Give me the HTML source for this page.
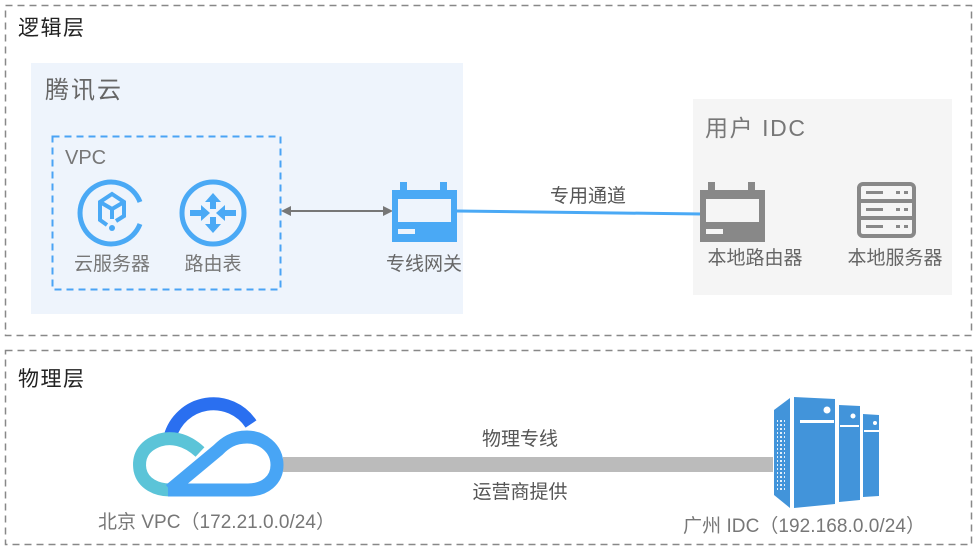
<!DOCTYPE html>
<html><head><meta charset="utf-8"><style>
html,body{margin:0;padding:0;background:#fff;}
svg{display:block;}
text{font-family:"Liberation Sans","Noto Sans CJK SC",sans-serif;}
</style></head><body>
<svg width="978" height="550" viewBox="0 0 978 550" xmlns="http://www.w3.org/2000/svg">
<defs><pattern id="dots" width="4" height="4" patternUnits="userSpaceOnUse"><rect x="0" y="0" width="2" height="2" fill="#fff"/></pattern></defs>
<!-- logic layer -->
<rect x="5.5" y="5.5" width="966" height="330" fill="none" stroke="#888" stroke-width="1.5" stroke-dasharray="7,5"/>
<text x="18" y="35" font-size="21" fill="#222" textLength="66">逻辑层</text>
<rect x="31" y="63" width="432" height="251" fill="#eef4fc"/>
<text x="45" y="98" font-size="24" fill="#666" textLength="76">腾讯云</text>
<rect x="52.5" y="136.5" width="228" height="153" fill="none" stroke="#4aa3f5" stroke-width="2" stroke-dasharray="7,5"/>
<text x="65" y="164" font-size="20" fill="#777">VPC</text>
<!-- cloud server icon -->
<g stroke="#4aa9f5" fill="none" stroke-width="5">
<path d="M140 224 A31 31 0 1 1 140 202"/>
<path d="M100 212 l0 -10 l12 -8 l12 8 l0 14 l-8 5" stroke-width="4"/>
<path d="M100 202 l12 7 l12 -7 M112 209 l0 10" stroke-width="4"/>
<path d="M100 212 l0 8 l7 5" stroke-width="4"/>
</g>
<circle cx="112" cy="228" r="3" fill="#4aa9f5"/>
<!-- router icon -->
<circle cx="213" cy="213" r="31" fill="none" stroke="#4aa9f5" stroke-width="5"/>
<g fill="#4aa9f5">
<polygon points="213,193 205,202 210,202 210,209 216,209 216,202 221,202"/>
<polygon points="213,233 205,224 210,224 210,217 216,217 216,224 221,224"/>
<polygon points="210,213 201,205 201,210 190,210 190,216 201,216 201,221"/>
<polygon points="216,213 225,205 225,210 236,210 236,216 225,216 225,221"/>
</g>
<text x="112" y="270" font-size="19" fill="#777" text-anchor="middle">云服务器</text>
<text x="213" y="270" font-size="19" fill="#777" text-anchor="middle">路由表</text>
<!-- arrow -->
<line x1="288" y1="211" x2="386" y2="211" stroke="#777" stroke-width="2"/>
<polygon points="281,211 291,206 291,216" fill="#777"/>
<polygon points="393,211 383,206 383,216" fill="#777"/>
<!-- gateway -->
<g fill="#4aa9f5">
<rect x="400" y="182" width="7" height="8"/><rect x="440" y="182" width="7" height="8"/>
<rect x="392" y="190" width="65" height="52"/>
</g>
<rect x="398" y="199" width="53" height="23" fill="#eef4fc"/>
<rect x="398" y="229" width="17" height="5" fill="#eef4fc"/>
<text x="424" y="270" font-size="19" fill="#666" text-anchor="middle">专线网关</text>
<!-- user IDC -->
<rect x="693" y="99" width="259" height="196" fill="#f5f5f5"/>
<text x="705" y="136" font-size="23" fill="#777" textLength="100">用户 IDC</text>
<line x1="457" y1="211" x2="702" y2="214" stroke="#4aa9f5" stroke-width="3"/>
<text x="588" y="202" font-size="19" fill="#555" text-anchor="middle">专用通道</text>
<g fill="#888">
<rect x="708" y="182" width="7" height="8"/><rect x="748" y="182" width="7" height="8"/>
<rect x="700" y="190" width="65" height="52"/>
</g>
<rect x="706" y="199" width="53" height="23" fill="#f5f5f5"/>
<rect x="706" y="229" width="17" height="5" fill="#f5f5f5"/>
<g fill="none" stroke="#888" stroke-width="4">
<rect x="859" y="184" width="55" height="52" rx="4"/>
<line x1="859" y1="201" x2="914" y2="201"/><line x1="859" y1="218" x2="914" y2="218"/>
</g>
<g fill="#888">
<rect x="866" y="191" width="17" height="3"/><rect x="896" y="191" width="4" height="3"/><rect x="904" y="191" width="4" height="3"/>
<rect x="866" y="208" width="17" height="3"/><rect x="896" y="208" width="4" height="3"/><rect x="904" y="208" width="4" height="3"/>
<rect x="866" y="225" width="17" height="3"/><rect x="896" y="225" width="4" height="3"/><rect x="904" y="225" width="4" height="3"/>
</g>
<text x="755" y="264" font-size="19" fill="#666" text-anchor="middle">本地路由器</text>
<text x="895" y="264" font-size="19" fill="#666" text-anchor="middle">本地服务器</text>
<!-- physical layer -->
<rect x="5.5" y="350.5" width="966" height="194" fill="none" stroke="#888" stroke-width="1.5" stroke-dasharray="7,5"/>
<text x="18" y="386" font-size="21" fill="#222" textLength="66">物理层</text>
<rect x="283" y="457" width="490" height="15" fill="#bbb"/>
<text x="520" y="445" font-size="19" fill="#555" text-anchor="middle">物理专线</text>
<text x="520" y="498" font-size="19" fill="#555" text-anchor="middle">运营商提供</text>
<!-- tencent cloud logo -->
<path d="M170 437 A45 45 0 0 1 251 424" fill="none" stroke="#2a6ff0" stroke-width="13"/>
<path d="M200 452 C185 438 170 437 160 440 C142 446 138 458 140 470 C143 484 157 490 170 490 L178 490" fill="none" stroke="#5bc4d8" stroke-width="13"/>
<path d="M168 490 L248 490 C265 490 277 480 277 465 C277 448 262 437 247 437 C233 437 225 443 218 450 L170 490" fill="none" stroke="#48a5f5" stroke-width="13" stroke-linejoin="round"/>
<text x="98" y="528" font-size="19" fill="#777" textLength="237">北京 VPC（172.21.0.0/24）</text>
<!-- IDC servers -->
<g fill="#4294da">
<polygon points="774,410 790,398 790,508 774,495"/>
<polygon points="794,397 835,399 835,504 794,508"/>
<polygon points="839,405 860,406 860,500 839,502"/>
<polygon points="863,414 879,415 879,496 863,497"/>
</g>
<g fill="#fff">
<rect x="800" y="420" width="34" height="3"/><rect x="840" y="425" width="19" height="2"/><rect x="864" y="430" width="15" height="2"/>
<circle cx="827" cy="410" r="3.5"/><circle cx="853" cy="416" r="2.5"/><circle cx="875" cy="423" r="2"/>
</g>
<rect x="777" y="418" width="8" height="72" fill="url(#dots)" opacity="0.85"/>
<text x="683" y="532" font-size="19" fill="#777" textLength="242">广州 IDC（192.168.0.0/24）</text>
</svg>
</body></html>
